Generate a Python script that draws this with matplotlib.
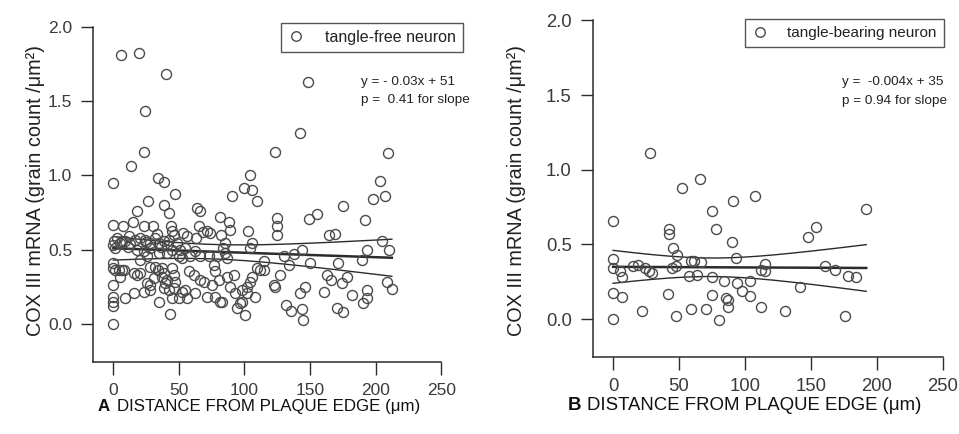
import numpy as np
import matplotlib
matplotlib.use("Agg")
import matplotlib.pyplot as plt

plt.rcParams['font.family'] = ['Liberation Sans', 'DejaVu Sans']

# ---- tangle-free neurons: distance from plaque edge (um), COX III mRNA grains/um^2
free_x = [
    0, 0, 0.5, 0, 1.5, 0, 0, 1, 0, 0, 0, 0, 0,
    5.8, 4, 6.6, 5.3, 6.6, 7.4, 7.9, 9, 9, 5.3, 3, 11,
    13.5, 15, 18, 13, 16.8, 15.5, 18, 15.5, 20.6, 19.6, 20.6, 12, 18,
    24.1, 23.1, 26.7, 23, 24.4, 23.1, 26, 28.2, 28.2, 28.2, 25.7, 28.2, 23.1, 28.2, 20.6, 25,
    33.8, 38.4, 30.2, 33.3, 32, 34.5, 38.4, 34.5, 32, 37, 38.4, 30.7, 37, 38.4, 34.5, 33.8, 38.4, 39.6, 36,
    40.4, 46.7, 42.2, 44, 44.7, 46, 42.2, 40.9, 44.7, 49.8, 48.5, 40.9, 46, 47.2, 42.2, 44.7, 49.8, 43.4, 44.7, 46, 41,
    53, 51, 54.9, 52.3, 57.4, 58.7, 52.3, 56.2, 54.9, 56,
    63.8, 66.3, 65, 63.3, 62.5, 66.3, 61.2, 66.3, 62.5, 69, 68,
    71.4, 74, 72.7, 79, 76.5, 77.5, 80.3, 75.2, 77.7, 71.4,
    81.6, 87.9, 89.2, 82.3, 85.4, 84, 85.4, 86.6, 81.6, 89.2, 86.6, 82.8,
    90.4, 99.3, 91.7, 92.6, 98, 94.3, 96.8, 98,
    103.9, 105.9, 109.5, 103, 105.7, 104.4, 105.7, 104.4, 101.9, 101.9, 108.2, 100.6, 109.5,
    114.6, 112, 114.6,
    123.5, 125, 125, 125, 129.8, 122.2, 123, 127.3,
    133.6, 137.4, 132, 135.5,
    142, 148.6, 143.8, 142.5, 146.3, 143.8, 145, 148.9, 150.2,
    155.2,
    164.1, 169.2, 160.3, 162.9, 166,
    175, 171.7, 178, 174.3, 170.5, 175.5,
    182, 189.5, 190.3,
    192, 193.3, 193.8, 193.3, 198.4,
    203.5, 207.3, 209.6, 204.8, 210.4, 208.6, 212.4,
]
free_y = [
    0.95, 0.664, 0.556, 0.534, 0.511, 0.41, 0.376, 0.365, 0.264, 0.185, 0.151, 0.124, 0.0,
    1.81, 0.365, 0.365, 0.545, 0.56, 0.658, 0.365, 0.56, 0.173, 0.32, 0.58, 0.52,
    1.063, 0.685, 0.763, 0.54, 0.568, 0.342, 0.331, 0.207, 0.432, 1.824, 0.579, 0.59, 0.50,
    1.435, 1.16, 0.826, 0.658, 0.568, 0.489, 0.46, 0.545, 0.511, 0.387, 0.275, 0.264, 0.218, 0.23, 0.342, 0.55,
    0.98, 0.955, 0.658, 0.608, 0.579, 0.545, 0.556, 0.477, 0.387, 0.376, 0.342, 0.309, 0.32, 0.241, 0.151, 0.365, 0.8, 0.275, 0.52,
    1.68, 0.878, 0.748, 0.658, 0.624, 0.6, 0.568, 0.477, 0.5, 0.455, 0.545, 0.297, 0.331, 0.286, 0.23, 0.173, 0.173, 0.065, 0.376, 0.241, 0.53,
    0.613, 0.5, 0.511, 0.444, 0.354, 0.455, 0.218, 0.173, 0.23, 0.59,
    0.78, 0.763, 0.658, 0.579, 0.489, 0.455, 0.331, 0.297, 0.207, 0.28, 0.62,
    0.624, 0.61, 0.455, 0.455, 0.4, 0.354, 0.297, 0.264, 0.185, 0.185,
    0.72, 0.69, 0.635, 0.6, 0.545, 0.511, 0.477, 0.444, 0.151, 0.252, 0.32, 0.15,
    0.86, 0.917, 0.331, 0.207, 0.151, 0.106, 0.14, 0.23,
    1.0, 0.9, 0.83, 0.624, 0.545, 0.511, 0.32, 0.286, 0.252, 0.207, 0.185, 0.061, 0.376,
    0.426, 0.365, 0.365,
    1.16, 0.714, 0.658, 0.6, 0.455, 0.264, 0.25, 0.331,
    0.4, 0.47, 0.13, 0.085,
    1.284, 1.63, 0.5, 0.207, 0.252, 0.101, 0.027, 0.707, 0.41,
    0.741,
    0.597, 0.606, 0.218, 0.327, 0.297,
    0.793, 0.41, 0.32, 0.275, 0.11, 0.079,
    0.196, 0.432, 0.14,
    0.703, 0.5, 0.23, 0.173, 0.845,
    0.962, 0.86, 1.149, 0.56, 0.5, 0.28, 0.236,
]

# ---- tangle-bearing neurons
bear_x = [
    0, 0, 0, 0, 0, 5, 7, 7, 15, 19, 22, 24, 27, 29.5, 28,
    42, 42.5, 42.5, 45.5, 48.5, 45, 48, 48, 52, 57.5, 59, 61, 59, 64, 66,
    67, 70.5, 74.7, 74.7, 75, 78.3, 80, 83.8, 85.5, 87, 86.8, 90, 91.3, 93.3,
    94, 98, 104.2, 104.2, 107.7, 112, 112, 115.5, 115.5, 130.6, 142, 148, 154,
    160.8, 168.6, 175.7, 178, 184, 192,
]
bear_y = [
    0.66, 0.405, 0.34, 0.175, 0.0, 0.32, 0.285, 0.146, 0.358, 0.365, 0.054, 0.342, 0.32, 0.31, 1.115,
    0.167, 0.606, 0.567, 0.478, 0.432, 0.342, 0.354, 0.022, 0.88, 0.29, 0.39, 0.39, 0.065, 0.295, 0.94,
    0.385, 0.07, 0.725, 0.28, 0.162, 0.6, -0.007, 0.252, 0.14, 0.125, 0.08, 0.515, 0.79, 0.408,
    0.245, 0.19, 0.155, 0.252, 0.827, 0.083, 0.33, 0.372, 0.32, 0.056, 0.212, 0.55, 0.617,
    0.358, 0.327, 0.018, 0.286, 0.28, 0.74,
]

# regression lines as reported (y x100 units in the annotation)
free_fit = (-0.0003, 0.51)
bear_fit = (-0.00004, 0.35)

x_ticks = [0, 50, 100, 150, 200, 250]
y_ticks = [0.0, 0.5, 1.0, 1.5, 2.0]

INK = '#2b2b2b'
MARK = '#4a4a4a'


def fit_band(x, y, slope, icpt, tval):
    x = np.asarray(x, float)
    y = np.asarray(y, float)
    n = len(x)
    res = y - (icpt + slope * x)
    s = np.sqrt(np.sum(res ** 2) / (n - 2))
    xm = x.mean()
    sxx = np.sum((x - xm) ** 2)
    xs = np.linspace(x.min(), x.max(), 200)
    yh = icpt + slope * xs
    half = tval * s * np.sqrt(1.0 / n + (xs - xm) ** 2 / sxx)
    return xs, yh, yh - half, yh + half


def panel(ax, x, y, fit, tval, legend_label, eq1, eq2, letter, eq_x, eq_y,
          leg_anchor, leg_fs, tick_fs, lab_fs, ylab_pos, letter_x, text_x,
          text_y, xlab_fs):
    ax.plot(x, y, linestyle='none', marker='o', ms=7.2, mfc='none',
            mec=MARK, mew=1.0, label=legend_label, zorder=3)
    xs, yh, lo, hi = fit_band(x, y, fit[0], fit[1], tval)
    ax.plot(xs, yh, color=INK, lw=1.8, zorder=2)
    ax.plot(xs, lo, color=INK, lw=1.0, zorder=2)
    ax.plot(xs, hi, color=INK, lw=1.0, zorder=2)

    ax.set_xlim(-15.5, 250)
    ax.set_ylim(-0.255, 2.0)
    ax.set_xticks(x_ticks)
    ax.set_yticks(y_ticks)
    ax.set_xticklabels([str(v) for v in x_ticks])
    ax.set_yticklabels([f'{v:.1f}' for v in y_ticks])
    for side in ('top', 'right'):
        ax.spines[side].set_visible(False)
    for side in ('left', 'bottom'):
        ax.spines[side].set_color(INK)
        ax.spines[side].set_linewidth(1.1)
    ax.tick_params(direction='out', length=9, width=1.0, color=INK,
                   labelsize=tick_fs, labelcolor='#3a3a3a', pad=6)

    ax.set_ylabel('COX III mRNA (grain count /μm²)', fontsize=lab_fs,
                  color='#222222')
    ax.yaxis.set_label_coords(*ylab_pos)

    leg = ax.legend(loc='upper right', bbox_to_anchor=leg_anchor, frameon=True,
                    fancybox=False, edgecolor=INK, fontsize=leg_fs,
                    handlelength=1.0, handletextpad=1.3, borderpad=0.45,
                    borderaxespad=0.0, markerscale=0.95)
    leg.get_frame().set_linewidth(1.0)
    for t in leg.get_texts():
        t.set_color('#222222')

    ax.text(eq_x, eq_y[0], eq1, fontsize=9.7, color='#222222', va='center')
    ax.text(eq_x, eq_y[1], eq2, fontsize=9.7, color='#222222', va='center')

    ax.text(letter_x, text_y, letter, transform=ax.transAxes, fontsize=xlab_fs,
            fontweight='bold', color='#111111', va='center')
    ax.text(text_x, text_y, 'DISTANCE FROM PLAQUE EDGE (μm)',
            transform=ax.transAxes, fontsize=xlab_fs, color='#111111',
            va='center')


fig = plt.figure(figsize=(9.59, 4.34), dpi=100)
ax1 = fig.add_axes([0.097, 0.166, 0.363, 0.772])
ax2 = fig.add_axes([0.618, 0.177, 0.365, 0.776])

panel(ax1, free_x, free_y, free_fit, 2.3, 'tangle-free neuron',
      'y = - 0.03x + 51', 'p =  0.41 for slope', 'A', 189, (1.628, 1.507),
      (1.063, 1.012), 11.5, 12.5, 14.3, (-0.137, 0.513),
      0.012, 0.068, -0.134, 12.2)
panel(ax2, bear_x, bear_y, bear_fit, 2.0, 'tangle-bearing neuron',
      'y =  -0.004x + 35', 'p = 0.94 for slope', 'B', 174, (1.585, 1.458),
      (1.003, 1.003), 11.0, 13.3, 14.3, (-0.19, 0.495),
      -0.071, -0.017, -0.142, 13.4)

fig.savefig('out.png', dpi=100)
